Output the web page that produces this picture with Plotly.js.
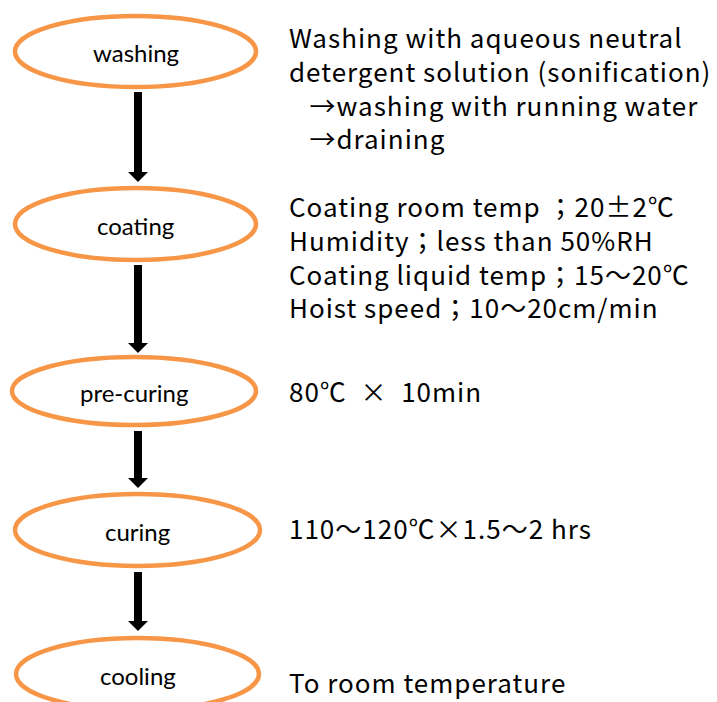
<!DOCTYPE html>
<html>
<head>
<meta charset="utf-8">
<script src="https://cdn.plot.ly/plotly-3.0.1.min.js"></script>
<style>
html,body{margin:0;padding:0;background:#fff;}
#chart{width:717px;height:702px;}
text.annotation-text[style*="Noto Sans CJK"]{letter-spacing:1px;}
</style>
</head>
<body>
<div id="chart"></div>
<script>
// ---- content ----
const steps = ['washing', 'coating', 'pre-curing', 'curing', 'cooling'];
const washingDetails = [
  'Washing with aqueous neutral',
  'detergent solution (sonification)',
  '\u00a0\u00a0\u00a0→washing with running water',
  '\u00a0\u00a0\u00a0→draining'
];
const coatingDetails = [
  'Coating room temp ；20±2℃',
  'Humidity；less than 50%RH',
  'Coating liquid temp；15～20℃',
  'Hoist speed；10～20cm/min'
];
const precuringDetails = ['80℃\u00a0\u00a0×\u00a0\u00a010min'];
const curingDetails = ['110～120℃×1.5～2 hrs'];
const coolingDetails = ['To room temperature'];
const details = [washingDetails, coatingDetails, precuringDetails, curingDetails, coolingDetails];

// ---- layout geometry (pixels, y downward) ----
const nodeBox = [
  {x0: 15, x1: 256, y0: 16, y1: 87},
  {x0: 15, x1: 256, y0: 188, y1: 260},
  {x0: 12, x1: 256, y0: 357, y1: 425},
  {x0: 15, x1: 260, y0: 494, y1: 566},
  {x0: 16, x1: 259, y0: 638, y1: 710}
];
const arrowSpans = [[92, 182], [265, 353], [431, 488], [572, 631]];
const arrowX = 138;
const textX = 287;
const textY = [87, 256, 390, 527, 681];

const shapes = [];
const annotations = [];
const orange = '#F79646';

steps.forEach((s, i) => {
  const b = nodeBox[i];
  shapes.push({type: 'circle', xref: 'x', yref: 'y', x0: b.x0, x1: b.x1, y0: b.y0, y1: b.y1,
    line: {color: orange, width: 4.5}, fillcolor: 'rgba(0,0,0,0)'});
  annotations.push({x: (b.x0 + b.x1) / 2, y: (b.y0 + b.y1) / 2 + 1, xref: 'x', yref: 'y', text: s,
    showarrow: false, xanchor: 'center', yanchor: 'middle',
    font: {family: 'Lato', size: 24, color: '#000'}});
});
details.forEach((lines, i) => {
  annotations.push({x: textX, y: textY[i], xref: 'x', yref: 'y', text: lines.join('<br>'),
    showarrow: false, xanchor: 'left', yanchor: 'middle', align: 'left',
    font: {family: 'Noto Sans CJK JP', size: 26, color: '#000'}});
});

arrowSpans.forEach(([a, b]) => {
  const hh = 10, sw = 4, hw = 10;
  shapes.push({type: 'rect', xref: 'x', yref: 'y', x0: arrowX - sw, x1: arrowX + sw, y0: a, y1: b - hh,
    fillcolor: '#000', line: {width: 0}});
  shapes.push({type: 'path', xref: 'x', yref: 'y',
    path: `M ${arrowX - hw} ${b - hh} L ${arrowX + hw} ${b - hh} L ${arrowX} ${b} Z`,
    fillcolor: '#000', line: {width: 0}});
});

const layout = {
  width: 717, height: 702,
  margin: {l: 0, r: 0, t: 0, b: 0},
  paper_bgcolor: '#fff', plot_bgcolor: '#fff',
  xaxis: {range: [0, 717], visible: false, fixedrange: true},
  yaxis: {range: [702, 0], visible: false, fixedrange: true},
  shapes: shapes,
  annotations: annotations,
  showlegend: false
};
Plotly.newPlot('chart', [], layout, {displayModeBar: false, staticPlot: true});
</script>
</body>
</html>
